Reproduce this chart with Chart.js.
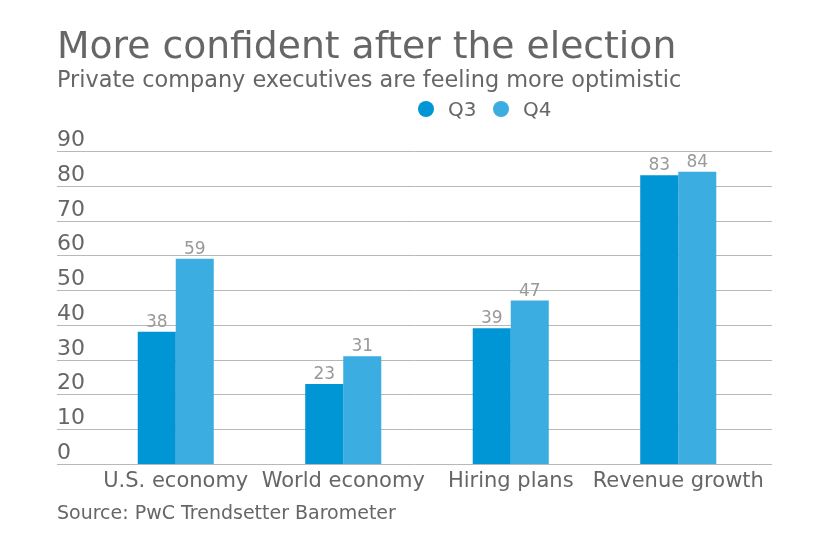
<!DOCTYPE html>
<html>
<head>
<meta charset="utf-8">
<script src="https://cdn.jsdelivr.net/npm/chart.js@4"></script>
<style>
  html, body { margin: 0; padding: 0; background: #fff; }
  #wrap { width: 840px; height: 547px; position: relative; }
</style>
</head>
<body>
<div id="wrap"><canvas id="chart"></canvas></div>
<script>
var categories = ["U.S. economy", "World economy", "Hiring plans", "Revenue growth"];
var q3Values = [38, 23, 39, 83];
var q4Values = [59, 31, 47, 84];
var yTicks = [0, 10, 20, 30, 40, 50, 60, 70, 80, 90];

var FONT = "'DejaVu Sans', Verdana, sans-serif";
var TEXT = "#666666";
var Q3_COLOR = "#0095d5";
var Q4_COLOR = "#3cade0";

// grid lines, y labels, titles, legend and source drawn around the plot
var decorations = {
	id: "decorations",
	beforeDatasetsDraw: function(chart) {
		var ctx = chart.ctx;
		var y = chart.scales.y;
		ctx.save();
		ctx.strokeStyle = "#b8b8b8";
		ctx.lineWidth = 1;
		ctx.fillStyle = TEXT;
		ctx.font = "22px " + FONT;
		ctx.textAlign = "left";
		ctx.textBaseline = "alphabetic";
		yTicks.forEach(function(t) {
			var py = Math.round(y.getPixelForValue(t)) + 0.5;
			ctx.beginPath();
			ctx.moveTo(57, py);
			ctx.lineTo(772, py);
			ctx.stroke();
			ctx.fillText(String(t), 57, py - 6);
		});
		ctx.restore();
	},
	afterDatasetsDraw: function(chart) {
		var ctx = chart.ctx;
		ctx.save();
		// value labels above bars
		ctx.fillStyle = "#999999";
		ctx.font = "17px " + FONT;
		ctx.textAlign = "center";
		ctx.textBaseline = "alphabetic";
		chart.data.datasets.forEach(function(ds, i) {
			chart.getDatasetMeta(i).data.forEach(function(bar, j) {
				ctx.fillText(String(ds.data[j]), bar.x, bar.y - 5);
			});
		});
		// title and subtitle
		ctx.textAlign = "left";
		ctx.fillStyle = TEXT;
		ctx.font = "37.7px " + FONT;
		ctx.fillText("More confident after the election", 57, 58);
		ctx.font = "22.4px " + FONT;
		ctx.fillText("Private company executives are feeling more optimistic", 57, 87);
		// legend
		var items = [["Q3", Q3_COLOR, 426], ["Q4", Q4_COLOR, 501]];
		items.forEach(function(it) {
			ctx.fillStyle = it[1];
			ctx.beginPath();
			ctx.arc(it[2], 109, 8, 0, Math.PI * 2);
			ctx.fill();
			ctx.fillStyle = TEXT;
			ctx.font = "20px " + FONT;
			ctx.fillText(it[0], it[2] + 22, 116);
		});
		// source
		ctx.font = "19px " + FONT;
		ctx.fillText("Source: PwC Trendsetter Barometer", 57, 519);
		ctx.restore();
	}
};

new Chart(document.getElementById("chart"), {
	type: "bar",
	data: {
		labels: categories,
		datasets: [{
			label: "Q3",
			data: q3Values,
			backgroundColor: Q3_COLOR,
			borderWidth: 0
		}, {
			label: "Q4",
			data: q4Values,
			backgroundColor: Q4_COLOR,
			borderWidth: 0
		}]
	},
	options: {
		responsive: true,
		maintainAspectRatio: false,
		animation: false,
		layout: {padding: {left: 92, right: 78, top: 151, bottom: 43}},
		datasets: {bar: {categoryPercentage: 0.454, barPercentage: 1}},
		plugins: {
			legend: {display: false},
			tooltip: {enabled: false}
		},
		scales: {
			x: {
				grid: {display: false, drawTicks: false},
				border: {display: false},
				ticks: {
					color: TEXT,
					font: {family: FONT, size: 21},
					padding: 5,
					maxRotation: 0,
					minRotation: 0,
					autoSkip: false
				},
				afterFit: function(s) { s.height = 40; }
			},
			y: {
				display: false,
				min: 0,
				max: 90
			}
		}
	},
	plugins: [decorations]
});
</script>
</body>
</html>
